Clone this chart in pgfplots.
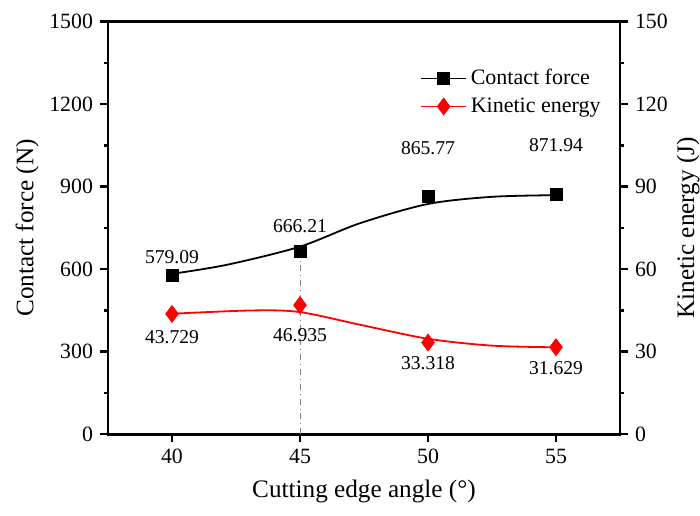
\documentclass[border=0pt]{standalone}
\usepackage{fontspec}
\setmainfont{Liberation Serif}
\usepackage{pgfplots}
\pgfplotsset{compat=1.18}

\pgfplotsset{
  twin/.style={
    scale only axis, width=256pt, height=206.3pt,
    xmin=37.5, xmax=57.5,
    axis line style={line width=1.4pt},
    tick style={line width=1.2pt, black},
    major tick length=4pt, minor tick length=2.2pt,
    tick align=outside,
    /pgf/number format/assume math mode=true,
    tick label style={font=\fontsize{10.9}{13}\selectfont},
    label style={font=\fontsize{12.6}{14}\selectfont},
  }
}

\begin{document}
\begin{tikzpicture}
% Left axis: contact force
\begin{axis}[twin, name=ax,
  ymin=0, ymax=1500, ytick={0,300,...,1500}, minor y tick num=1,
  xtick={40,45,50,55}, xtick pos=bottom, ytick pos=left,
  xlabel={Cutting edge angle (°)},
  ylabel={Contact force (N)},
  xlabel style={at={(rel axis cs:0.5,-0.14)}, anchor=center},
  ylabel style={at={(rel axis cs:-0.158,0.5)}, anchor=center},
  /pgf/number format/1000 sep={},
]
  % guide line at 45 degrees
  \addplot[gray, dash dot, line width=0.4pt] coordinates {(45,0) (45,666.21)};
  % fitted trend
  \addplot[black, line width=0.9pt, smooth, no marks] coordinates {
    (40,583) (42.15,616) (45,682) (47.34,767) (50,837) (52.5,863) (55,869)};
  % measured values
  \addplot[only marks, mark=square*, mark size=3pt, black] coordinates {
    (40,579.09) (45,666.21) (50,865.77) (55,871.94)};
  \begin{scope}[font=\fontsize{9.8}{12}\selectfont]
    \node at (axis cs:40,579.09) [yshift=9pt] {579.09};
    \node at (axis cs:45,666.21) [yshift=12.5pt] {666.21};
    \node at (axis cs:50,865.77) [yshift=24pt] {865.77};
    \node at (axis cs:55,871.94) [yshift=24.5pt] {871.94};
  \end{scope}
\end{axis}
% Right axis: kinetic energy
\begin{axis}[twin,
  ymin=0, ymax=150, ytick={0,30,...,150}, minor y tick num=1,
  axis x line=none, axis y line*=right,
  ylabel={Kinetic energy (J)},
  ylabel style={at={(rel axis cs:1.133,0.5)}, anchor=center},
  legend style={draw=none, fill=none, at={(rel axis cs:0.598,0.905)}, anchor=north west,
    font=\fontsize{11}{13}\selectfont, row sep=1pt,
    legend cell align=left},
  legend image code/.code={
    \draw[#1, line width=0.9pt] (0cm,0cm) -- (0.78cm,0cm);
    \draw[#1, only marks] plot coordinates {(0.39cm,0cm)};
  },
]
  \addlegendimage{black, mark=square*, mark size=3pt}
  \addlegendentry{Contact force}
  \addlegendimage{red, mark=diamond*, mark size=4.2pt}
  \addlegendentry{Kinetic energy}
  \addplot[red, line width=0.9pt, smooth, no marks] coordinates {
    (40,43.8) (43.16,45.0) (45,44.4) (47.34,39.8) (50,34.7) (52.5,32.2) (55,31.6)};
  \addplot[only marks, mark=diamond*, mark size=4.2pt, red] coordinates {
    (40,43.729) (45,46.935) (50,33.318) (55,31.629)};
  \begin{scope}[font=\fontsize{9.8}{12}\selectfont]
    \node at (axis cs:40,43.729) [yshift=-11.5pt] {43.729};
    \node at (axis cs:45,46.935) [yshift=-15pt] {46.935};
    \node at (axis cs:50,33.318) [yshift=-10.5pt] {33.318};
    \node at (axis cs:55,31.629) [yshift=-10.5pt] {31.629};
  \end{scope}
\end{axis}
\pgfresetboundingbox
\path (ax.south west) ++(-54pt,-40.5pt) coordinate (bl);
\path (ax.north west) ++(296pt,10.8pt) coordinate (tr);
\path (bl) rectangle (tr);
\end{tikzpicture}
\end{document}
